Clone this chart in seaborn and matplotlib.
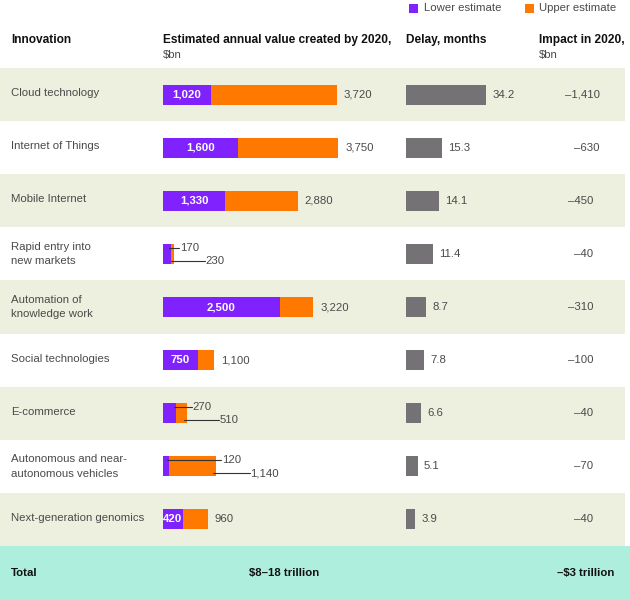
import matplotlib
matplotlib.use("Agg")
import matplotlib.pyplot as plt
from matplotlib.patches import Rectangle
import numpy as np
import pandas as pd
import seaborn as sns

# ---------------- data ----------------
innovations = ["Cloud technology", "Internet of Things", "Mobile Internet",
               "Rapid entry into\nnew markets", "Automation of\nknowledge work",
               "Social technologies", "E-commerce",
               "Autonomous and near-\nautonomous vehicles", "Next-generation genomics"]
lower_est = [1020, 1600, 1330, 170, 2500, 750, 270, 120, 420]
upper_est = [3720, 3750, 2880, 230, 3220, 1100, 510, 1140, 960]
delay_months = [34.2, 15.3, 14.1, 11.4, 8.7, 7.8, 6.6, 5.1, 3.9]
impact_bn = [-1410, -630, -450, -40, -310, -100, -40, -70, -40]
total_value = "$8–18 trillion"
total_impact = "–$3 trillion"
callout_rows = [3, 6, 7]

# ---------------- style ----------------
PURPLE = "#7f22fd"
ORANGE = "#ff7800"
GRAY = "#747274"
GREEN = "#edf0df"
MINT = "#aeeedc"
TXT = "#4a4a4a"
HEAD = "#111111"
FS = 8.2
FS_H = 8.6

sns.set_theme(style="white")
plt.rcParams["font.family"] = ["Liberation Sans", "DejaVu Sans"]

W, H = 630, 600
fig = plt.figure(figsize=(W / 100, H / 100), dpi=100)
fig.patch.set_facecolor("white")

TOP, BOT = 68, 546
ROW_H = (BOT - TOP) / len(innovations)
BAR_W = 20 / ROW_H


def fx(px):
    return px / W


def fy(py):
    return 1 - py / H


# background / text layer in pixel coordinates
ax_bg = fig.add_axes([0, 0, 1, 1])
ax_bg.set_xlim(0, W)
ax_bg.set_ylim(H, 0)
ax_bg.axis("off")

for i in range(len(innovations)):
    top = TOP + i * ROW_H
    if i % 2 == 0:
        ax_bg.add_patch(Rectangle((0, top), 625, ROW_H, color=GREEN, lw=0))
    dy = 0 if "\n" in innovations[i] else -1.5
    ax_bg.text(11, top + ROW_H / 2 + dy, innovations[i], fontsize=FS, color=TXT,
               va="center", ha="left", linespacing=1.55)
    right = 600 if i < 2 else 593
    ax_bg.text(right, top + ROW_H / 2, "–{:,}".format(abs(impact_bn[i])),
               fontsize=FS, color=TXT, va="center", ha="right")

ax_bg.add_patch(Rectangle((0, BOT), W, H - BOT, color=MINT, lw=0))
ax_bg.text(11, 573, "Total", fontsize=FS, fontweight="bold", color=HEAD, va="center")
ax_bg.text(249, 573, total_value, fontsize=FS, fontweight="bold", color=HEAD, va="center")
ax_bg.text(614, 573, total_impact, fontsize=FS, fontweight="bold", color=HEAD,
           va="center", ha="right")

# headers
ax_bg.text(11, 40, "Innovation", fontsize=FS_H, fontweight="bold", color=HEAD, va="center")
ax_bg.text(163, 40, "Estimated annual value created by 2020,", fontsize=FS_H,
           fontweight="bold", color=HEAD, va="center")
ax_bg.text(163, 55, "$bn", fontsize=FS, color=TXT, va="center")
ax_bg.text(406, 40, "Delay, months", fontsize=FS_H, fontweight="bold", color=HEAD, va="center")
ax_bg.text(539, 40, "Impact in 2020,", fontsize=FS_H, fontweight="bold", color=HEAD, va="center")
ax_bg.text(539, 55, "$bn", fontsize=FS, color=TXT, va="center")

# legend
ax_bg.add_patch(Rectangle((409, 3.5), 8.5, 9, color=PURPLE, lw=0))
ax_bg.text(424, 8, "Lower estimate", fontsize=FS, color=TXT, va="center")
ax_bg.add_patch(Rectangle((525, 3.5), 8.5, 9, color=ORANGE, lw=0))
ax_bg.text(539, 8, "Upper estimate", fontsize=FS, color=TXT, va="center")

# ---------------- value bars ----------------
df = pd.DataFrame({"innovation": innovations, "lower": lower_est,
                   "upper": upper_est, "delay": delay_months})

BN_PER_PX = 21.4
V_LEFT, V_RIGHT = 163, 400
ax_v = fig.add_axes([fx(V_LEFT), fy(BOT), fx(V_RIGHT) - fx(V_LEFT), (BOT - TOP) / H])
ax_v.patch.set_alpha(0)
sns.barplot(data=df, y="innovation", x="upper", orient="h", color=ORANGE,
            width=BAR_W, saturation=1, errorbar=None, linewidth=0, ax=ax_v)
sns.barplot(data=df, y="innovation", x="lower", orient="h", color=PURPLE,
            width=BAR_W, saturation=1, errorbar=None, linewidth=0, ax=ax_v)
ax_v.set_xlim(0, (V_RIGHT - V_LEFT) * BN_PER_PX)
ax_v.set_ylim(len(innovations) - 0.5, -0.5)
ax_v.axis("off")

px = BN_PER_PX
lower_off = {3: 9, 6: 17, 7: 53}
upper_off = {3: 32, 6: 33, 7: 34}
line_col = "#333333"
for i in range(len(innovations)):
    lo, up = lower_est[i], upper_est[i]
    if i in callout_rows:
        yl = i - 6 / ROW_H
        yu = i + 7 / ROW_H
        xl_end = lo + lower_off[i] * px
        ax_v.plot([lo - 1.5 * px, xl_end - 0.5 * px], [yl, yl], color=line_col, lw=0.8)
        ax_v.text(xl_end, yl, "{:,}".format(lo), fontsize=FS, color=TXT,
                  va="center", ha="left")
        xu_end = up + upper_off[i] * px
        ax_v.plot([up - 3 * px, xu_end - 0.5 * px], [yu, yu], color=line_col, lw=0.8)
        ax_v.text(xu_end, yu, "{:,}".format(up), fontsize=FS, color=TXT,
                  va="center", ha="left")
    else:
        ax_v.text(lo / 2, i, "{:,}".format(lo), fontsize=FS, fontweight="bold",
                  color="white", va="center", ha="center")
        ax_v.text(up + 7 * px, i, "{:,}".format(up), fontsize=FS, color=TXT,
                  va="center", ha="left")

# ---------------- delay bars ----------------
PX_PER_MONTH = 2.34
D_LEFT, D_RIGHT = 406, 536
ax_d = fig.add_axes([fx(D_LEFT), fy(BOT), fx(D_RIGHT) - fx(D_LEFT), (BOT - TOP) / H])
ax_d.patch.set_alpha(0)
sns.barplot(data=df, y="innovation", x="delay", orient="h", color=GRAY,
            width=BAR_W, saturation=1, errorbar=None, linewidth=0, ax=ax_d)
ax_d.set_xlim(0, (D_RIGHT - D_LEFT) / PX_PER_MONTH)
ax_d.set_ylim(len(innovations) - 0.5, -0.5)
ax_d.axis("off")
for i, d in enumerate(delay_months):
    ax_d.text(d + 6 / PX_PER_MONTH, i, "{:.1f}".format(d), fontsize=FS, color=TXT,
              va="center", ha="left")

fig.savefig("out.png", dpi=100, facecolor="white")
